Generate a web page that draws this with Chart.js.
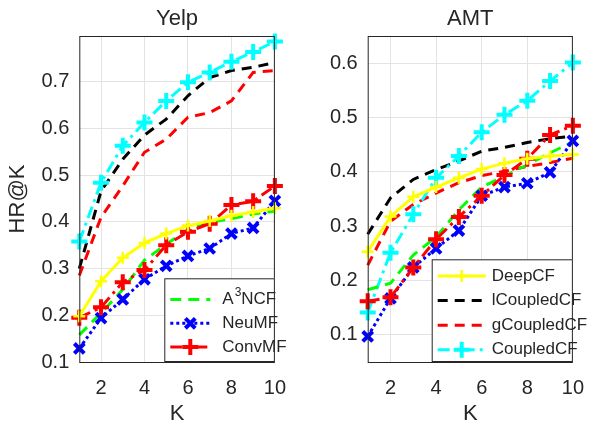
<!DOCTYPE html>
<html>
<head>
<meta charset="utf-8">
<script src="https://cdn.jsdelivr.net/npm/chart.js@4.4.1/dist/chart.umd.min.js"></script>
<style>
  body { margin: 0; background: #fff; }
  #wrap { position: relative; width: 598px; height: 430px; }
  canvas { position: absolute; top: 0; }
</style>
</head>
<body>
<div id="wrap">
  <canvas id="yelp" width="300" height="430" style="left:0"></canvas>
  <canvas id="amt" width="298" height="430" style="left:300px"></canvas>
</div>
<script>
// x values and tick labels
const kValues = [1, 2, 3, 4, 5, 6, 7, 8, 9, 10];
const xTicks = [2, 4, 6, 8, 10];
const yelpTicks = [0.1, 0.2, 0.3, 0.4, 0.5, 0.6, 0.7];
const amtTicks = [0.1, 0.2, 0.3, 0.4, 0.5, 0.6];

// Yelp HR@K
const yelpDeepCF     = [0.198, 0.273, 0.323, 0.355, 0.375, 0.392, 0.402, 0.413, 0.421, 0.429];
const yelpLCoupledCF = [0.300, 0.466, 0.534, 0.586, 0.620, 0.670, 0.709, 0.724, 0.731, 0.741];
const yelpGCoupledCF = [0.285, 0.410, 0.477, 0.549, 0.577, 0.624, 0.634, 0.659, 0.720, 0.724];
const yelpCoupledCF  = [0.358, 0.484, 0.563, 0.613, 0.659, 0.699, 0.720, 0.743, 0.764, 0.786];
const yelpA3NCF      = [0.158, 0.205, 0.255, 0.318, 0.352, 0.383, 0.399, 0.407, 0.417, 0.423];
const yelpNeuMF      = [0.129, 0.194, 0.234, 0.277, 0.306, 0.327, 0.343, 0.375, 0.387, 0.445];
const yelpConvMF     = [0.195, 0.217, 0.271, 0.297, 0.350, 0.379, 0.396, 0.436, 0.444, 0.477];

// AMT HR@K
const amtDeepCF     = [0.253, 0.318, 0.354, 0.372, 0.389, 0.405, 0.416, 0.424, 0.429, 0.432];
const amtLCoupledCF = [0.285, 0.352, 0.386, 0.404, 0.420, 0.438, 0.445, 0.454, 0.461, 0.466];
const amtGCoupledCF = [0.228, 0.309, 0.340, 0.361, 0.380, 0.393, 0.401, 0.410, 0.417, 0.425];
const amtCoupledCF  = [0.141, 0.251, 0.322, 0.389, 0.429, 0.473, 0.505, 0.531, 0.567, 0.601];
const amtA3NCF      = [0.183, 0.195, 0.247, 0.280, 0.330, 0.372, 0.392, 0.413, 0.435, 0.455];
const amtNeuMF      = [0.097, 0.167, 0.224, 0.259, 0.292, 0.356, 0.372, 0.379, 0.399, 0.457];
const amtConvMF     = [0.162, 0.169, 0.224, 0.276, 0.317, 0.356, 0.394, 0.424, 0.468, 0.485];

const FONT = "'Liberation Sans', Arial, sans-serif";
const INK = '#262626';

// line styles per method
const styles = {
  DeepCF:     { color: '#ffff00', dash: [],            point: 'cross',    r: 6, pw: 2.5 },
  lCoupledCF: { color: '#000000', dash: [10, 7],       point: false },
  gCoupledCF: { color: '#ff0000', dash: [10, 7],       point: false },
  CoupledCF:  { color: '#00ffff', dash: [12, 5, 3, 5], point: 'cross',    r: 8, pw: 4 },
  A3NCF:      { color: '#00ff00', dash: [11, 7],       point: false },
  NeuMF:      { color: '#0000ff', dash: [3, 3],        point: 'crossRot', r: 7, pw: 4 },
  ConvMF:     { color: '#ff0000', dash: [12, 5, 3, 5], point: 'cross',    r: 8, pw: 4 }
};

function makeDataset(name, values) {
  const s = styles[name];
  return {
    label: name,
    data: values.map((v, i) => ({ x: kValues[i], y: v })),
    borderColor: s.color,
    backgroundColor: s.color,
    borderWidth: 3,
    borderDash: s.dash,
    pointStyle: s.point || 'circle',
    pointRadius: s.point ? s.r : 0,
    pointBorderWidth: s.pw || 0,
    pointBorderColor: s.color,
    tension: 0,
    clip: false
  };
}

function drawSample(ctx, name, x0, x1, y) {
  const s = styles[name];
  ctx.save();
  ctx.strokeStyle = s.color;
  ctx.lineWidth = 3;
  ctx.setLineDash(s.dash);
  ctx.beginPath(); ctx.moveTo(x0, y); ctx.lineTo(x1, y); ctx.stroke();
  ctx.setLineDash([]);
  if (s.point) {
    const cx = (x0 + x1) / 2, r = s.r;
    ctx.lineWidth = s.pw;
    ctx.beginPath();
    if (s.point === 'cross') {
      ctx.moveTo(cx - r, y); ctx.lineTo(cx + r, y);
      ctx.moveTo(cx, y - r); ctx.lineTo(cx, y + r);
    } else {
      const d = r * 0.7071;
      ctx.moveTo(cx - d, y - d); ctx.lineTo(cx + d, y + d);
      ctx.moveTo(cx + d, y - d); ctx.lineTo(cx - d, y + d);
    }
    ctx.stroke();
  }
  ctx.restore();
}

function panelPlugin(opts) {
  return {
    id: 'panel',
    afterDraw(chart) {
      const ctx = chart.ctx;
      const a = chart.chartArea;
      const cx = (a.left + a.right) / 2;
      ctx.save();
      // axes box
      ctx.strokeStyle = INK;
      ctx.lineWidth = 1;
      ctx.strokeRect(a.left + 0.5, a.top + 0.5, a.right - a.left - 1, a.bottom - a.top);
      // title and axis labels
      ctx.fillStyle = INK;
      ctx.textAlign = 'center';
      ctx.textBaseline = 'middle';
      ctx.font = '22px ' + FONT;
      ctx.fillText(opts.title, cx, 19);
      ctx.fillText('K', cx, 414);
      if (opts.yLabel) {
        ctx.save();
        ctx.translate(18, (a.top + a.bottom) / 2);
        ctx.rotate(-Math.PI / 2);
        ctx.fillText(opts.yLabel, 0, 0);
        ctx.restore();
      }
      // legend
      const L = opts.legend;
      ctx.fillStyle = '#ffffff';
      ctx.fillRect(L.left, L.top, a.right - L.left, a.bottom - L.top);
      ctx.strokeStyle = INK;
      ctx.strokeRect(L.left + 0.5, L.top + 0.5, a.right - L.left - 1, a.bottom - L.top - 1);
      ctx.font = '17px ' + FONT;
      ctx.textAlign = 'left';
      L.items.forEach((name, i) => {
        const y = L.first + i * L.step;
        drawSample(ctx, name, L.left + L.lineStart, L.left + L.lineEnd, y);
        ctx.fillStyle = INK;
        const tx = L.left + L.textX;
        if (name === 'A3NCF') {
          ctx.fillText('A', tx, y);
          const w = ctx.measureText('A').width;
          ctx.font = '12px ' + FONT;
          ctx.fillText('3', tx + w + 1, y - 7);
          const w3 = ctx.measureText('3').width;
          ctx.font = '17px ' + FONT;
          ctx.fillText('NCF', tx + w + w3 + 1, y);
        } else {
          ctx.fillText(name, tx, y);
        }
      });
      ctx.restore();
    }
  };
}

function makeChart(id, sets, yMin, yMax, yTicks, yWidth, padRight, plugOpts) {
  return new Chart(document.getElementById(id), {
    type: 'line',
    data: { datasets: sets },
    options: {
      responsive: false,
      animation: false,
      layout: { padding: { top: 36, right: padRight, left: 0, bottom: 0 } },
      plugins: { legend: { display: false }, tooltip: { enabled: false } },
      scales: {
        x: {
          type: 'linear', min: 1, max: 10,
          afterBuildTicks: s => { s.ticks = xTicks.map(v => ({ value: v })); },
          afterFit: s => { s.height = 68; },
          grid: { color: '#e3e3e3', drawTicks: false },
          border: { display: false },
          ticks: { color: INK, font: { family: FONT, size: 20 }, padding: 14, maxRotation: 0 }
        },
        y: {
          min: yMin, max: yMax,
          afterBuildTicks: s => { s.ticks = yTicks.map(v => ({ value: v })); },
          afterFit: s => { s.width = yWidth; },
          grid: { color: '#e3e3e3', drawTicks: false },
          border: { display: false },
          ticks: { color: INK, font: { family: FONT, size: 20 }, padding: 10,
                   callback: v => v.toFixed(1) }
        }
      }
    },
    plugins: [panelPlugin(plugOpts)]
  });
}

makeChart('yelp', [
  makeDataset('DeepCF', yelpDeepCF),
  makeDataset('ConvMF', yelpConvMF),
  makeDataset('NeuMF', yelpNeuMF),
  makeDataset('A3NCF', yelpA3NCF),
  makeDataset('CoupledCF', yelpCoupledCF),
  makeDataset('gCoupledCF', yelpGCoupledCF),
  makeDataset('lCoupledCF', yelpLCoupledCF)
], 0.1, 0.798, yelpTicks, 79.3, 2.3, {
  title: 'Yelp', yLabel: 'HR@K',
  legend: { left: 164.3, top: 278.3, first: 299.5, step: 23.8,
            lineStart: 6, lineEnd: 46, textX: 58,
            items: ['A3NCF', 'NeuMF', 'ConvMF'] }
});

makeChart('amt', [
  makeDataset('DeepCF', amtDeepCF),
  makeDataset('ConvMF', amtConvMF),
  makeDataset('NeuMF', amtNeuMF),
  makeDataset('A3NCF', amtA3NCF),
  makeDataset('CoupledCF', amtCoupledCF),
  makeDataset('gCoupledCF', amtGCoupledCF),
  makeDataset('lCoupledCF', amtLCoupledCF)
], 0.05, 0.65, amtTicks, 67.7, 12.3, {
  title: 'AMT', yLabel: null,
  legend: { left: 131.7, top: 259.3, first: 276, step: 24.6,
            lineStart: 6, lineEnd: 54, textX: 60,
            items: ['DeepCF', 'lCoupledCF', 'gCoupledCF', 'CoupledCF'] }
});
</script>
</body>
</html>
